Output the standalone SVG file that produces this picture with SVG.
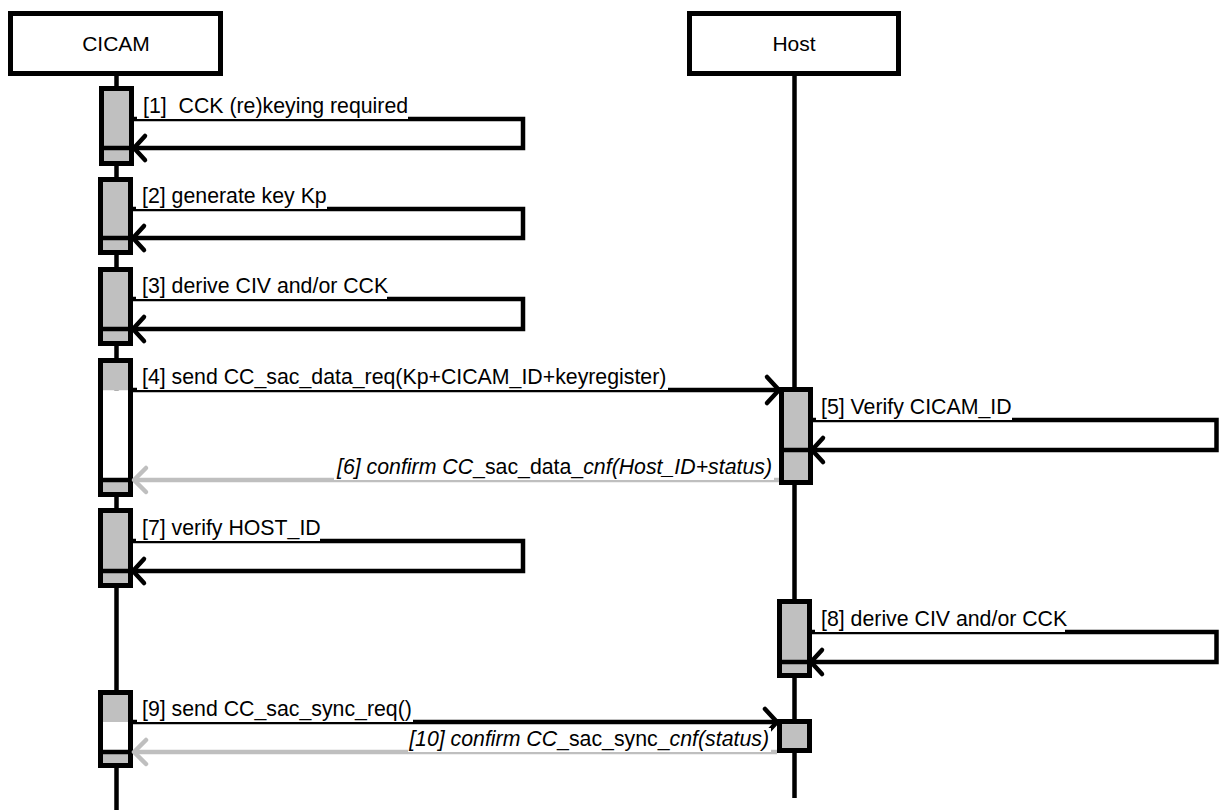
<svg xmlns="http://www.w3.org/2000/svg" width="1220" height="810" viewBox="0 0 1220 810">
<style>
.box{fill:#fff;stroke:#000;stroke-width:5}
.life{stroke:#000;stroke-width:4.5;fill:none}
.act{fill:#c0c0c0;stroke:#000;stroke-width:5}
.actw{fill:#fff;stroke:none}
.actg{fill:#c0c0c0;stroke:none}
.acto{fill:none;stroke:#000;stroke-width:5}
.sep{stroke:#000;stroke-width:4.5}
.msg{fill:none;stroke:#000;stroke-width:4.5}
.ret{fill:none;stroke:#bfbfbf;stroke-width:4.5}
.head{fill:none;stroke:#000;stroke-width:4.5;stroke-linecap:round;stroke-linejoin:round}
.rhead{fill:none;stroke:#bfbfbf;stroke-width:4.5;stroke-linecap:round;stroke-linejoin:round}
.bg{fill:#fff}
.t{font-family:"Liberation Sans",Arial,sans-serif;font-size:21.3px;fill:#000}
.n{font-size:21px}
.i{font-style:italic}
.u{font-style:normal}
</style>
<g id="lifelines">
<line class="life" x1="116.5" y1="72" x2="116.5" y2="810"/>
<line class="life" x1="794.5" y1="72" x2="794.5" y2="798"/>
</g>
<g id="CICAM">
<rect class="box" x="10.5" y="13.5" width="210" height="60"/>
<text class="t n" x="116" y="51" text-anchor="middle">CICAM</text>
</g>
<g id="Host">
<rect class="box" x="689.5" y="13.5" width="209" height="60"/>
<text class="t n" x="794" y="51" text-anchor="middle">Host</text>
</g>
<g id="activations">
<g id="act1"><rect class="act" x="101.5" y="88.5" width="30" height="75"/><line class="sep" x1="101.5" y1="148" x2="131.5" y2="148"/></g>
<g id="act2"><rect class="act" x="100.5" y="179.5" width="30" height="73"/><line class="sep" x1="100.5" y1="238" x2="130.5" y2="238"/></g>
<g id="act3"><rect class="act" x="100.5" y="269.5" width="30" height="74"/><line class="sep" x1="100.5" y1="329" x2="130.5" y2="329"/></g>
<g id="act4">
<rect class="actg" x="100.5" y="360.5" width="30" height="30"/>
<rect class="actw" x="100.5" y="390.5" width="30" height="89.5"/>
<rect class="actg" x="100.5" y="480" width="30" height="14.5"/>
<rect class="acto" x="100.5" y="360.5" width="30" height="134"/>
<line class="sep" x1="100.5" y1="480" x2="130.5" y2="480"/>
</g>
<g id="act7"><rect class="act" x="100.5" y="510.5" width="30" height="75"/><line class="sep" x1="100.5" y1="571" x2="130.5" y2="571"/></g>
<g id="act9">
<rect class="actg" x="100.5" y="692.5" width="30" height="29.5"/>
<rect class="actw" x="100.5" y="722" width="30" height="30"/>
<rect class="actg" x="100.5" y="752" width="30" height="13.5"/>
<rect class="acto" x="100.5" y="692.5" width="30" height="73"/>
<line class="sep" x1="100.5" y1="752" x2="130.5" y2="752"/>
</g>
<g id="act5"><rect class="act" x="781.5" y="389.5" width="29" height="93"/><line class="sep" x1="781.5" y1="450" x2="810.5" y2="450"/></g>
<g id="act8"><rect class="act" x="779.5" y="601.5" width="30" height="74"/><line class="sep" x1="779.5" y1="662" x2="809.5" y2="662"/></g>
<g id="act10"><rect class="act" x="779.5" y="721.5" width="30" height="29"/></g>
</g>
<g id="connectors">
<polyline class="msg" points="133,119 523,119 523,148 133,148"/>
<polyline class="head" points="145,136 134,148 145,160"/>
<rect class="bg" x="137" y="95" width="271" height="24"/>
<text class="t" x="143" y="113">[1]&#160; CCK (re)keying required</text>

<polyline class="msg" points="132,209 523,209 523,238 132,238"/>
<polyline class="head" points="144,226 133,238 144,250"/>
<rect class="bg" x="136" y="185" width="191" height="24"/>
<text class="t" x="142" y="203">[2] generate key Kp</text>

<polyline class="msg" points="132,299 523,299 523,329 132,329"/>
<polyline class="head" points="144,317 133,329 144,341"/>
<rect class="bg" x="136" y="275" width="251" height="24"/>
<text class="t" x="142" y="293">[3] derive CIV and/or CCK</text>

<line class="msg" x1="132" y1="390" x2="778" y2="390"/>
<polyline class="head" points="767,377 779,390 767,403"/>
<rect class="bg" x="137" y="366" width="531" height="24"/>
<text class="t" x="142" y="384">[4] send CC_sac_data_req(Kp+CICAM_ID+keyregister)</text>

<polyline class="msg" points="811,420 1216.5,420 1216.5,450 811,450"/>
<polyline class="head" points="823,438 812,450 823,462"/>
<rect class="bg" x="816" y="396" width="196" height="24"/>
<text class="t" x="821" y="414">[5] Verify CICAM_ID</text>

<line class="ret" x1="779" y1="480" x2="134" y2="480"/>
<polyline class="rhead" points="146,468 134,480 146,492"/>
<rect class="bg" x="334" y="456" width="440" height="24"/>
<text class="t i" x="772" y="474" text-anchor="end">[6] confirm CC<tspan class="u">_sac_data_</tspan>cnf(Host_ID+status)</text>

<polyline class="msg" points="132,541 523,541 523,571 132,571"/>
<polyline class="head" points="144,559 133,571 144,583"/>
<rect class="bg" x="136" y="517" width="184" height="24"/>
<text class="t" x="142" y="535">[7] verify HOST_ID</text>

<polyline class="msg" points="810,632 1216.5,632 1216.5,662 810,662"/>
<polyline class="head" points="822,650 811,662 822,674"/>
<rect class="bg" x="815" y="608" width="250" height="24"/>
<text class="t" x="821" y="626">[8] derive CIV and/or CCK</text>

<line class="msg" x1="132" y1="722" x2="776" y2="722"/>
<polyline class="head" points="765,709 777,722 765,735"/>
<rect class="bg" x="137" y="698" width="276" height="24"/>
<text class="t" x="142" y="716">[9] send CC_sac_sync_req()</text>

<line class="ret" x1="777" y1="752" x2="134" y2="752"/>
<polyline class="rhead" points="146,740 134,752 146,764"/>
<rect class="bg" x="408" y="728" width="363" height="24"/>
<text class="t i" x="769" y="746" text-anchor="end">[10] confirm CC<tspan class="u">_sac_sync_</tspan>cnf(status)</text>
</g>
</svg>
